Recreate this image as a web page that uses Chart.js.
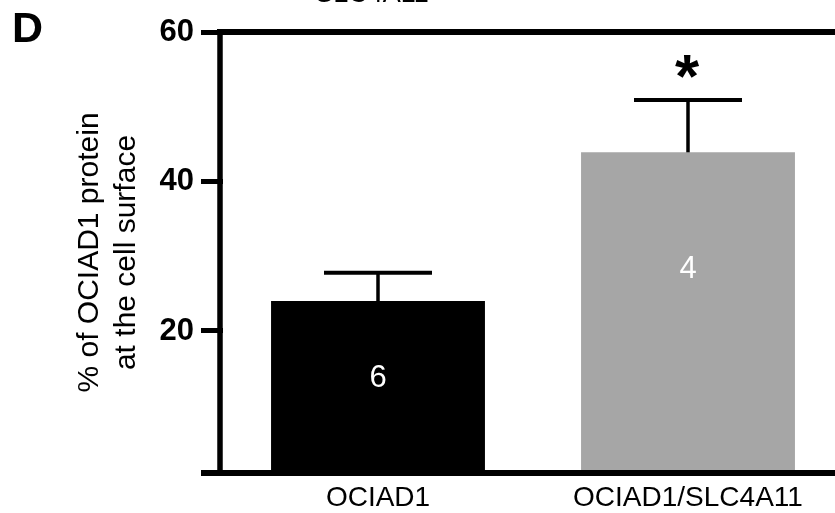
<!DOCTYPE html>
<html>
<head>
<meta charset="utf-8">
<script src="https://cdn.jsdelivr.net/npm/chart.js@4.4.1/dist/chart.umd.min.js"></script>
<style>
  html, body { margin: 0; padding: 0; background: #fff; overflow: hidden; }
  #wrap { width: 835px; height: 513px; overflow: hidden; }
  canvas { display: block; }
</style>
</head>
<body>
<div id="wrap"><canvas id="chart" width="843" height="513"></canvas></div>
<script>
const categories = ["OCIAD1", "OCIAD1/SLC4A11"];
const means = [24.0, 43.9];
const errTops = [27.8, 50.9];
const nCounts = ["6", "4"];
const yTicks = [20, 40, 60];

const FONT = "'Liberation Sans', Arial, Helvetica, sans-serif";
const COLORS = {
  ink: "#000000",
  grey: "#a6a6a6",
  white: "#ffffff",
};

// axis frame, error bars, n labels, asterisk, panel letter
const extras = {
  id: "extras",
  afterDatasetsDraw(chart) {
    const ctx = chart.ctx;
    const area = chart.chartArea;
    const x = chart.scales.x;
    const y = chart.scales.y;
    ctx.save();
    ctx.strokeStyle = COLORS.ink;
    ctx.lineCap = "butt";

    // error bars (upper only)
    means.forEach((m, i) => {
      const cx = x.getPixelForValue(i);
      const yb = y.getPixelForValue(m);
      const yt = y.getPixelForValue(errTops[i]);
      ctx.lineWidth = 3.5;
      ctx.beginPath();
      ctx.moveTo(cx, yb);
      ctx.lineTo(cx, yt);
      ctx.stroke();
      ctx.lineWidth = 4;
      ctx.beginPath();
      ctx.moveTo(cx - 54, yt);
      ctx.lineTo(cx + 54, yt);
      ctx.stroke();
    });

    // n inside bars
    const nAt = [13.6, 28.2];
    ctx.fillStyle = COLORS.white;
    ctx.font = "31px " + FONT;
    ctx.textAlign = "center";
    ctx.textBaseline = "middle";
    nCounts.forEach((n, i) => {
      ctx.fillText(n, x.getPixelForValue(i), y.getPixelForValue(nAt[i]));
    });

    // significance star
    ctx.fillStyle = COLORS.ink;
    ctx.font = "bold 62px " + FONT;
    ctx.textBaseline = "alphabetic";
    const m = ctx.measureText("*");
    const starCy = y.getPixelForValue(errTops[1]) - 34;
    const base = starCy + (m.actualBoundingBoxAscent - m.actualBoundingBoxDescent) / 2;
    ctx.fillText("*", x.getPixelForValue(1) - 1, base);

    // axes lines
    ctx.lineWidth = 6;
    ctx.beginPath();
    ctx.moveTo(201, area.bottom);
    ctx.lineTo(chart.width, area.bottom);
    ctx.stroke();
    ctx.beginPath();
    ctx.moveTo(217, area.top);
    ctx.lineTo(chart.width, area.top);
    ctx.stroke();
    ctx.lineWidth = 5.5;
    ctx.beginPath();
    ctx.moveTo(220, area.top - 3);
    ctx.lineTo(220, area.bottom);
    ctx.stroke();

    // panel letter and clipped header from the panel above
    ctx.textAlign = "left";
    ctx.font = "bold 43px " + FONT;
    ctx.fillText("D", 12, 42);
    ctx.font = "27px " + FONT;
    ctx.textAlign = "center";
    ctx.fillText("SLC4A11", 372, 1.5);
    ctx.restore();
  },
};

new Chart(document.getElementById("chart"), {
  type: "bar",
  data: {
    labels: categories,
    datasets: [
      {
        data: means,
        backgroundColor: [COLORS.ink, COLORS.grey],
        borderWidth: 0,
        barPercentage: 0.69,
        categoryPercentage: 1,
      },
    ],
  },
  options: {
    responsive: false,
    animation: false,
    events: [],
    layout: { padding: { top: 32, right: 0, left: 0, bottom: 0 } },
    plugins: { legend: { display: false }, tooltip: { enabled: false } },
    scales: {
      x: {
        offset: true,
        grid: { display: false, drawTicks: false },
        border: { display: false },
        ticks: {
          color: COLORS.ink,
          font: { family: FONT, size: 28 },
          padding: 8,
          maxRotation: 0,
        },
        afterFit(scale) {
          scale.height = 40;
        },
      },
      y: {
        min: 1,
        max: 60,
        grid: {
          drawOnChartArea: false,
          tickLength: 22,
          tickWidth: 5,
          tickColor: COLORS.ink,
        },
        border: { display: false },
        ticks: {
          color: COLORS.ink,
          font: { family: FONT, size: 31, weight: "bold" },
          padding: 7,
        },
        afterBuildTicks(scale) {
          scale.ticks = yTicks.map((v) => ({ value: v }));
        },
        title: {
          display: true,
          text: ["% of OCIAD1 protein", "at the cell surface"],
          color: COLORS.ink,
          font: { family: FONT, size: 30, lineHeight: 1.23 },
          padding: { top: 71, bottom: 0 },
        },
        afterFit(scale) {
          scale.width = 223;
        },
      },
    },
  },
  plugins: [extras],
});
</script>
</body>
</html>
